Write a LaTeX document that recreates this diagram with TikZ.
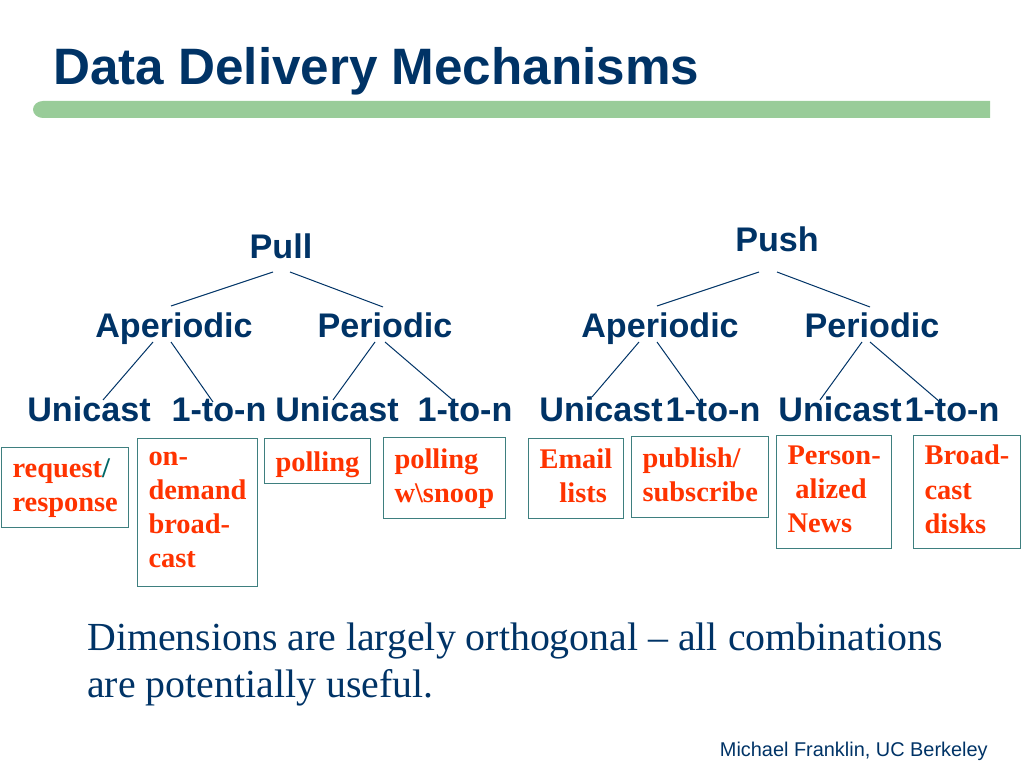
\documentclass[tikz,border=0pt]{standalone}
\usepackage{fontspec}
\setmainfont{Liberation Serif}
\setsansfont{Liberation Sans}
\usetikzlibrary{calc}
\definecolor{navy}{HTML}{003366}
\definecolor{barGreen}{HTML}{99CC99}
\definecolor{boxTeal}{HTML}{3E7F7F}
\definecolor{slashTeal}{HTML}{006666}
\definecolor{mechRed}{HTML}{FF3300}

\begin{document}
\begin{tikzpicture}[x=0.703125pt,y=-0.703125pt]
				\tikzset{lvl/.style={font=\sffamily\bfseries\fontsize{24}{28}\selectfont,text=navy,inner sep=0pt,anchor=base},
					mech/.style={draw=boxTeal,line width=0.8pt,anchor=north west,align=left,inner xsep=7.7pt,inner ysep=0pt,
						text=mechRed,font=\rmfamily\bfseries\fontsize{20}{24}\selectfont,text depth=4pt,minimum height=#1,
						execute at begin node={\rule{0pt}{18pt}}},
					branch/.style={draw=navy,line width=0.7pt}}
				\useasboundingbox (0,0) rectangle (1024,768);
				\node [anchor=base west,inner sep=0pt,text=navy,font=\sffamily\bfseries\fontsize{36}{40}\selectfont] (title) at (53,85) {Data Delivery Mechanisms};
				\fill[barGreen] (990,101) -- (43,101) arc[start angle=270,end angle=90,x radius=10,y radius=8.5] -- (990,118) -- cycle;
				\node [lvl] (pull) at (281,259) {Pull};
				\node [lvl] (pullAper) at (174,338) {Aperiodic};
				\node [lvl] (pullPer) at (385,338) {Periodic};
				\node [lvl] (pullAU) at (89,421) {Unicast};
				\node [lvl] (pullAN) at (219,421) {1-to-n};
				\node [lvl] (pullPU) at (337,421) {Unicast};
				\node [lvl] (pullPN) at (465,421) {1-to-n};
				\node [lvl] (push) at (777,252) {Push};
				\node [lvl] (pushAper) at (660,338) {Aperiodic};
				\node [lvl] (pushPer) at (872,338) {Periodic};
				\node [lvl] (pushAU) at (601,421) {Unicast};
				\node [lvl] (pushAN) at (713,421) {1-to-n};
				\node [lvl] (pushPU) at (840,421) {Unicast};
				\node [lvl] (pushPN) at (952,421) {1-to-n};
				\path[branch] ($(pull.base)+(-8,13)$) -- ($(pullAper.base)+(-3,-32)$)
							($(pull.base)+(9,13)$) -- ($(pullPer.base)+(-2,-31)$)
							($(pullAper.base)+(-21,4)$) -- ($(pullAU.base)+(14,-21)$)
							($(pullAper.base)+(-3,4)$) -- ($(pullAN.base)+(-6,-19)$)
							($(pullPer.base)+(-10,4)$) -- ($(pullPU.base)+(-4,-21)$)
							($(pullPer.base)+(0,4)$) -- ($(pullPN.base)+(-10,-19)$)
							($(push.base)+(-18,20)$) -- ($(pushAper.base)+(-3,-32)$)
							($(push.base)+(0,20)$) -- ($(pushPer.base)+(-2,-31)$)
							($(pushAper.base)+(-21,4)$) -- ($(pushAU.base)+(-9,-24)$)
							($(pushAper.base)+(-3,4)$) -- ($(pushAN.base)+(-13,-19)$)
							($(pushPer.base)+(-10,4)$) -- ($(pushPU.base)+(-20,-21)$)
							($(pushPer.base)+(-2,4)$) -- ($(pushPN.base)+(-12,-19)$);
				\node [mech=56.25pt] (reqresp) at (1,447) {request\textcolor{slashTeal}{/}\\response};
				\node [mech=104.06pt] (ondemand) at (137,438) {on-\\demand\\broad-\\cast};
				\node [mech=31.64pt] (polling) at (264,438) {polling};
				\node [mech=56.95pt] (snoop) at (383,437) {polling\\w\textbackslash snoop};
				\node [mech=56.25pt] (email) at (528,438) {Email\\\hspace*{14pt}lists};
				\node [mech=56.95pt] (pubsub) at (631,436) {publish/\\subscribe};
				\node [mech=79.45pt] (news) at (776,435) {Person-\\\hspace*{5.6pt}alized\\News};
				\node [mech=79.45pt] (disks) at (913,435) {Broad-\\cast\\disks};
				\node [anchor=base west,inner sep=0pt,align=left,text=navy,font=\rmfamily\fontsize{28}{33}\selectfont] (remark) at (87,697)
					{Dimensions are largely orthogonal -- all combinations\\are potentially useful.};
				\node [anchor=base east,inner sep=0pt,text=navy,font=\sffamily\fontsize{14}{16}\selectfont] (credit) at (988,756) {Michael Franklin, UC Berkeley};
			\end{tikzpicture}
\end{document}
